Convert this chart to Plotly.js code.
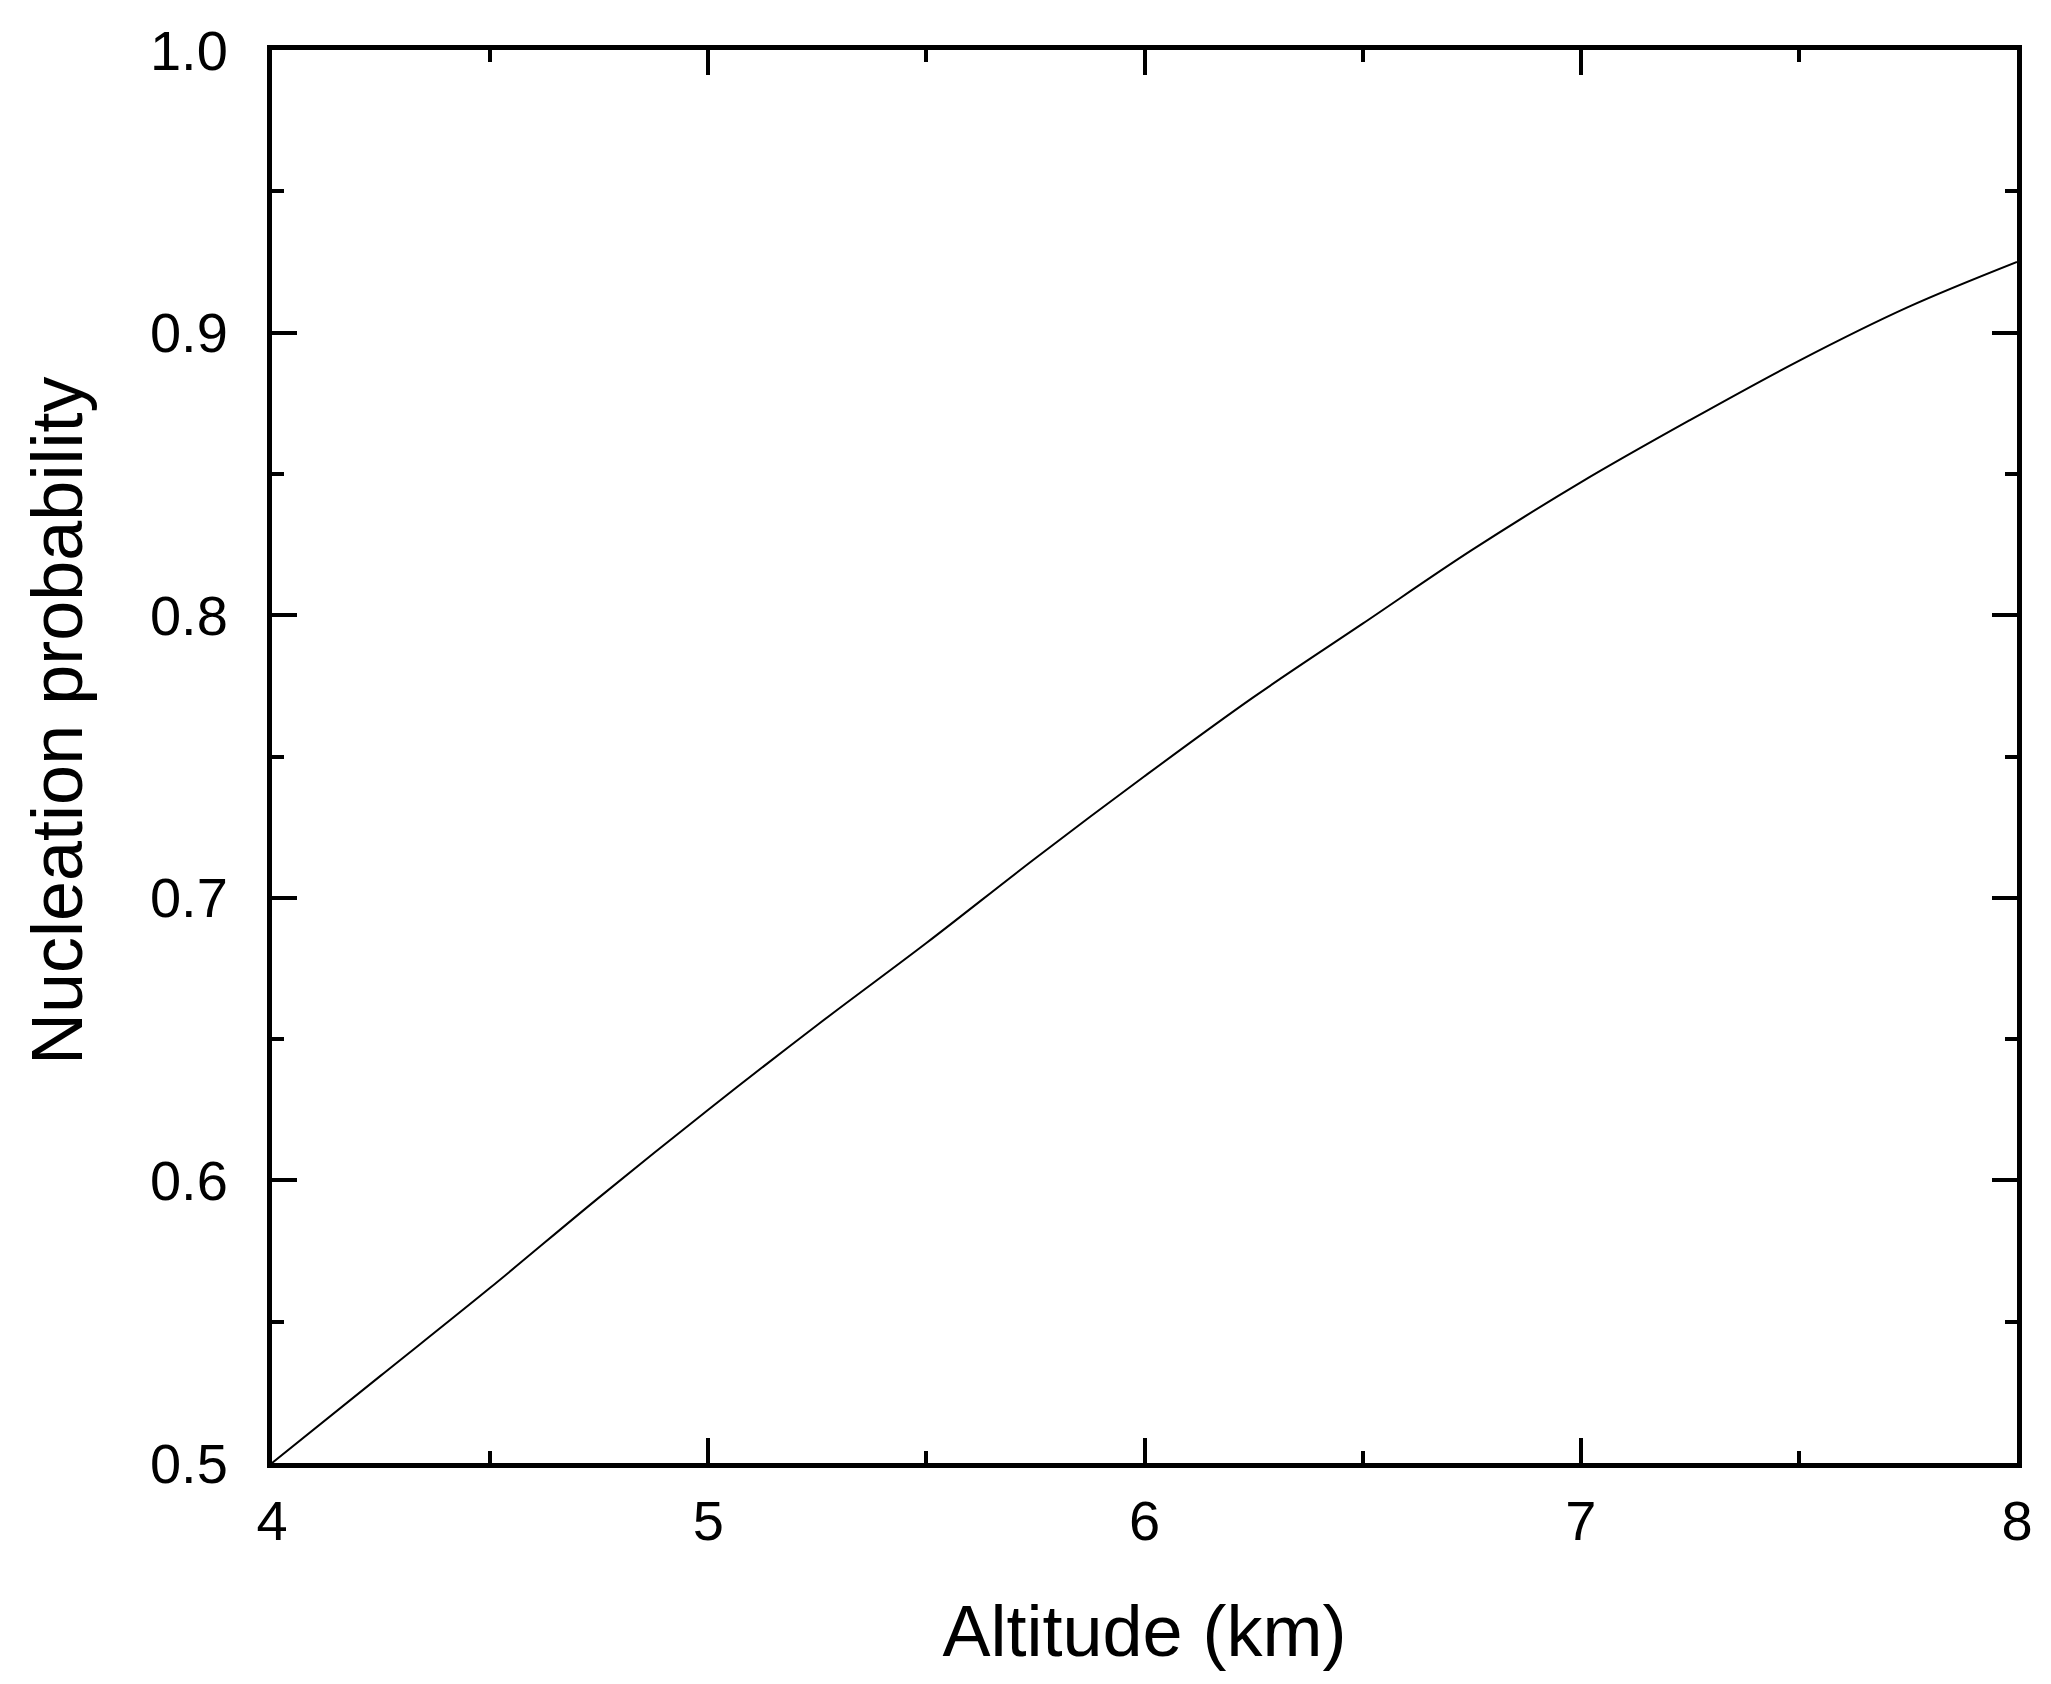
<!DOCTYPE html>
<html>
<head>
<meta charset="utf-8">
<script src="https://cdn.plot.ly/plotly-3.0.1.min.js"></script>
<style>html,body{margin:0;padding:0;background:#fff;}#chart{width:2051px;height:1684px;}</style>
</head>
<body>
<div id="chart"></div>
<script>
const altitudeKm = [4.00, 4.25, 4.50, 4.75, 5.00, 5.25, 5.50, 5.75, 6.00, 6.25, 6.50, 6.75, 7.00, 7.25, 7.50, 7.75, 8.00];
const nucleationProbability = [0.500, 0.531, 0.562, 0.594, 0.625, 0.655, 0.684, 0.714, 0.743, 0.771, 0.797, 0.823, 0.847, 0.869, 0.890, 0.909, 0.925];
const xTickVals = [4, 5, 6, 7, 8];
const xTickText = ["4", "5", "6", "7", "8"];
const yTickVals = [0.5, 0.6, 0.7, 0.8, 0.9, 1.0];
const yTickText = ["0.5", "0.6", "0.7", "0.8", "0.9", "1.0"];
const xTitle = "Altitude (km)";
const yTitle = "Nucleation probability";

const FONT = "Liberation Sans, Arial, sans-serif";

const trace = {
  x: altitudeKm,
  y: nucleationProbability,
  type: "scatter",
  mode: "lines",
  line: {color: "#000000", width: 2, shape: "spline", smoothing: 1},
  showlegend: false,
  hoverinfo: "x+y"
};

const axisCommon = {
  showline: true,
  linecolor: "#000000",
  linewidth: 5,
  mirror: "allticks",
  ticks: "inside",
  ticklen: 25,
  tickwidth: 4,
  tickcolor: "#000000",
  showgrid: false,
  zeroline: false,
  tickfont: {family: FONT, size: 56, color: "#000000"},
  automargin: false
};

const layout = {
  width: 2051,
  height: 1684,
  paper_bgcolor: "#ffffff",
  plot_bgcolor: "#ffffff",
  margin: {l: 272, r: 34, t: 50, b: 221, pad: 0},
  font: {family: FONT, color: "#000000"},
  xaxis: Object.assign({}, axisCommon, {
    range: [4, 8],
    tickmode: "array",
    tickvals: xTickVals,
    ticktext: xTickText,
    ticklabelstandoff: 5,
    minor: {dtick: 0.5, ticks: "inside", ticklen: 12, tickwidth: 4, tickcolor: "#000000", showgrid: false},
    title: {text: xTitle, font: {family: FONT, size: 72, color: "#000000"}, standoff: 56}
  }),
  yaxis: Object.assign({}, axisCommon, {
    range: [0.5, 1.0],
    tickmode: "array",
    tickvals: yTickVals,
    ticktext: yTickText,
    ticklabelstandoff: 28,
    minor: {dtick: 0.05, ticks: "inside", ticklen: 12, tickwidth: 4, tickcolor: "#000000", showgrid: false}
  }),
  annotations: [{
    text: yTitle,
    textangle: -90,
    xref: "paper", yref: "paper",
    x: (57 - 272) / 1745, y: (1463 - 721) / 1413,
    xanchor: "center", yanchor: "middle",
    showarrow: false,
    font: {family: FONT, size: 72, color: "#000000"}
  }]
};

Plotly.newPlot("chart", [trace], layout, {displayModeBar: false, staticPlot: true});
</script>
</body>
</html>
